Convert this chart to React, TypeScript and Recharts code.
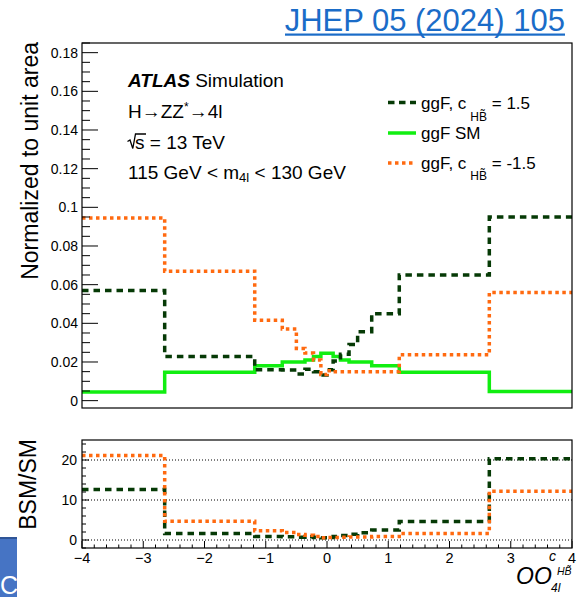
import React from 'react';
import { LineChart, Line, XAxis, YAxis, ReferenceLine } from 'recharts';

// Bin edges of the optimal observable (shared by all histograms)
const binEdges = [-4, -2.65, -1.18, -0.73, -0.5, -0.36, -0.22, -0.1, 0, 0.1, 0.22, 0.36, 0.5, 0.73, 1.18, 2.65, 4];

// Normalized bin contents, one value per bin
const smValues = [0.0045, 0.0147, 0.018, 0.02, 0.02, 0.021, 0.0228, 0.0245, 0.0245, 0.0228, 0.021, 0.02, 0.02, 0.018, 0.0147, 0.0047];
const posValues = [0.057, 0.0228, 0.016, 0.0158, 0.0138, 0.0163, 0.015, 0.0133, 0.016, 0.0205, 0.024, 0.029, 0.0357, 0.045, 0.065, 0.095];
const negValues = [0.0945, 0.067, 0.0416, 0.037, 0.027, 0.0246, 0.021, 0.0135, 0.0155, 0.015, 0.015, 0.015, 0.015, 0.015, 0.0237, 0.056];

// BSM / SM ratios
const posRatio = [12.6, 1.6, 0.9, 0.8, 0.7, 0.8, 0.65, 0.55, 0.65, 0.9, 1.15, 1.45, 1.8, 2.5, 4.6, 20.3];
const negRatio = [21.1, 4.7, 2.3, 1.85, 1.35, 1.2, 0.9, 0.55, 0.65, 0.65, 0.7, 0.75, 0.75, 0.85, 1.65, 12.2];

// Axis ticks
const mainYMajor = [0, 0.02, 0.04, 0.06, 0.08, 0.1, 0.12, 0.14, 0.16, 0.18];
const ratioYMajor = [0, 10, 20];
const xMajor = [-4, -3, -2, -1, 0, 1, 2, 3, 4];
const xLabels = ['\u22124', '\u22123', '\u22122', '\u22121', '0', '1', '2', '3', '4'];

const FONT = '"Liberation Sans", Arial, Helvetica, sans-serif';
const DARK = '#063a06';
const GREEN = '#11ee11';
const ORANGE = '#ff6a10';
const PLOT_L = 82;
const MAIN_BOTTOM = 408;
const RATIO_BOTTOM = 118; // local to ratio chart

function stepRows(series: Record<string, number[]>) {
    return binEdges.map((x, i) => {
        const row: Record<string, number> = { x };
        for (const k in series) row[k] = series[k][Math.min(i, series[k].length - 1)];
        return row;
    });
}

function stepTicks(lo: number, hi: number, step: number) {
    const out: number[] = [];
    for (let i = Math.ceil(lo / step - 1e-9); i * step <= hi + 1e-9; i++) out.push(+(i * step).toFixed(6));
    return out;
}

const isMajor = (v: number, majors: number[]) => majors.some(m => Math.abs(m - v) < 1e-9);

const mainData = stepRows({ sm: smValues, pos: posValues, neg: negValues });
const ratioData = stepRows({ pos: posRatio, neg: negRatio });

const xTicks = stepTicks(-4, 4, 0.2);
const mainYTicks = stepTicks(0, 0.185, 0.005);
const ratioYTicks = stepTicks(-2, 25, 2);

const MainYTick = (props: any) => {
    const { y, payload } = props;
    const major = isMajor(payload.value, mainYMajor);
    return (
        <g>
            <line x1={PLOT_L} x2={PLOT_L + (major ? 16 : 8)} y1={y} y2={y} stroke="#000" strokeWidth={1} />
            {major && (
                <text x={PLOT_L - 4} y={y + 5} textAnchor="end" fontSize={14} fontFamily={FONT} fill="#000">
                    {String(Math.round(payload.value * 100) / 100)}
                </text>
            )}
        </g>
    );
};

const MainXTick = (props: any) => {
    const { x, payload } = props;
    const major = isMajor(payload.value, xMajor);
    return <line x1={x} x2={x} y1={MAIN_BOTTOM} y2={MAIN_BOTTOM - (major ? 9 : 4.5)} stroke="#000" strokeWidth={1} />;
};

const RatioYTick = (props: any) => {
    const { y, payload } = props;
    const major = isMajor(payload.value, ratioYMajor);
    return (
        <g>
            <line x1={PLOT_L} x2={PLOT_L + (major ? 7 : 4)} y1={y} y2={y} stroke="#000" strokeWidth={1} />
            {major && (
                <text x={PLOT_L - 5} y={y + 5} textAnchor="end" fontSize={14} fontFamily={FONT} fill="#000">
                    {payload.value}
                </text>
            )}
        </g>
    );
};

const RatioXTick = (props: any) => {
    const { x, payload } = props;
    const idx = xMajor.findIndex(m => Math.abs(m - payload.value) < 1e-9);
    const major = idx >= 0;
    return (
        <g>
            <line x1={x} x2={x} y1={RATIO_BOTTOM} y2={RATIO_BOTTOM - (major ? 7 : 3.5)} stroke="#000" strokeWidth={1} />
            {major && (
                <text x={x} y={RATIO_BOTTOM + 15} textAnchor="middle" fontSize={14.5} fontFamily={FONT} fill="#000">
                    {xLabels[idx]}
                </text>
            )}
        </g>
    );
};

export default function App() {
    return (
        <div style={{ position: 'absolute', left: 0, top: 0, width: 577, height: 597, background: '#fff', overflow: 'hidden' }}>
            {/* Main panel */}
            <div style={{ position: 'absolute', left: 0, top: 0 }}>
                <LineChart width={577} height={410} data={mainData} margin={{ top: 43, right: 5, bottom: 2, left: 0 }}>
                    <XAxis dataKey="x" type="number" domain={[-4, 4]} ticks={xTicks} interval={0} height={0}
                        axisLine={false} tickLine={false} tick={MainXTick} allowDataOverflow />
                    <YAxis type="number" domain={[-0.0038, 0.185]} ticks={mainYTicks} interval={0} width={82}
                        axisLine={false} tickLine={false} tick={MainYTick} allowDataOverflow />
                    <Line type="stepAfter" dataKey="sm" stroke={GREEN} strokeWidth={3.5} dot={false} isAnimationActive={false} />
                    <Line type="stepAfter" dataKey="pos" stroke={DARK} strokeWidth={3.5} strokeDasharray="6.5 5" dot={false} isAnimationActive={false} />
                    <Line type="stepAfter" dataKey="neg" stroke={ORANGE} strokeWidth={3.5} strokeDasharray="3.5 3.5" dot={false} isAnimationActive={false} />
                </LineChart>
            </div>

            {/* Ratio panel */}
            <div style={{ position: 'absolute', left: 0, top: 430 }}>
                <LineChart width={577} height={157} data={ratioData} margin={{ top: 10, right: 5, bottom: 0, left: 0 }}>
                    <XAxis dataKey="x" type="number" domain={[-4, 4]} ticks={xTicks} interval={0} height={39}
                        axisLine={false} tickLine={false} tick={RatioXTick} allowDataOverflow />
                    <YAxis type="number" domain={[-2, 25]} ticks={ratioYTicks} interval={0} width={82}
                        axisLine={false} tickLine={false} tick={RatioYTick} allowDataOverflow />
                    {ratioYMajor.map(v => (
                        <ReferenceLine key={v} y={v} stroke="#000" strokeWidth={1} strokeDasharray="1 2" />
                    ))}
                    <Line type="stepAfter" dataKey="pos" stroke={DARK} strokeWidth={3.5} strokeDasharray="6.5 5" dot={false} isAnimationActive={false} />
                    <Line type="stepAfter" dataKey="neg" stroke={ORANGE} strokeWidth={3.5} strokeDasharray="3.5 3.5" dot={false} isAnimationActive={false} />
                </LineChart>
            </div>

            {/* Frames, titles, legend */}
            <svg width={577} height={597} style={{ position: 'absolute', left: 0, top: 0, pointerEvents: 'none' }} fontFamily={FONT}>
                <rect x={82} y={43} width={490} height={365} fill="none" stroke="#000" strokeWidth={1.2} />
                <rect x={82} y={440} width={490} height={108} fill="none" stroke="#000" strokeWidth={1.2} />

                {/* journal reference */}
                <text x={565} y={31} textAnchor="end" fontSize={31} fill="#1a6cc8">JHEP 05 (2024) 105</text>
                <rect x={285} y={33.5} width={280} height={2.2} fill="#1a6cc8" />

                {/* y titles */}
                <text transform="translate(38,42) rotate(-90)" textAnchor="end" fontSize={23} fill="#000">Normalized to unit area</text>
                <text transform="translate(36,439) rotate(-90)" textAnchor="end" fontSize={23} fill="#000">BSM/SM</text>

                {/* x title */}
                <text x={516} y={584} fontSize={23} fontStyle="italic" fill="#000">OO</text>
                <text x={549} y={561} fontSize={14} fontStyle="italic" fill="#000">c</text>
                <text x={557} y={575} fontSize={10.5} fontStyle="italic" fill="#000">{'HB\u0303'}</text>
                <text x={551} y={592} fontSize={12} fontStyle="italic" fill="#000">4l</text>

                {/* ATLAS label */}
                <text x={128} y={86.5} fontSize={19} fill="#000">
                    <tspan fontWeight="bold" fontStyle="italic">ATLAS</tspan> Simulation
                </text>
                <text x={128} y={117.5} fontSize={19} fill="#000">
                    H{'\u2192'}ZZ<tspan fontSize={12} dy={-7}>*</tspan><tspan dy={7}>{'\u2192'}4l</tspan>
                </text>
                <path d="M127.5,141.5 L130,140 L132.8,148.5 L135.5,134 L146,134" fill="none" stroke="#000" strokeWidth={1.3} />
                <text x={135} y={148.5} fontSize={19} fill="#000">s = 13 TeV</text>
                <text x={128} y={178.5} fontSize={19} fill="#000">
                    115 GeV {'<'} m<tspan fontSize={13} dy={3}>4l</tspan><tspan dy={-3}> {'<'} 130 GeV</tspan>
                </text>

                {/* legend */}
                <line x1={388} x2={416} y1={102.5} y2={102.5} stroke={DARK} strokeWidth={3.5} strokeDasharray="6.5 4.5" />
                <text x={421} y={108.5} fontSize={17} fill="#000">
                    ggF, c<tspan fontSize={12} dx={4} dy={12}>{'HB\u0303'}</tspan><tspan dy={-12}> = 1.5</tspan>
                </text>
                <line x1={388} x2={416} y1={133} y2={133} stroke={GREEN} strokeWidth={3.5} />
                <text x={421} y={139} fontSize={17} fill="#000">ggF SM</text>
                <line x1={388} x2={416} y1={163} y2={163} stroke={ORANGE} strokeWidth={3.5} strokeDasharray="3.5 3.5" />
                <text x={421} y={169} fontSize={17} fill="#000">
                    ggF, c<tspan fontSize={12} dx={4} dy={11}>{'HB\u0303'}</tspan><tspan dy={-11}> = -1.5</tspan>
                </text>

                {/* stray page element at the lower left */}
                <rect x={0} y={537} width={17} height={60} fill="#4674c4" />
                <rect x={0} y={537} width={17} height={2} fill="#2f5597" />
                <text x={0} y={594} fontSize={25} fill="#fff">C</text>
            </svg>
        </div>
    );
}
